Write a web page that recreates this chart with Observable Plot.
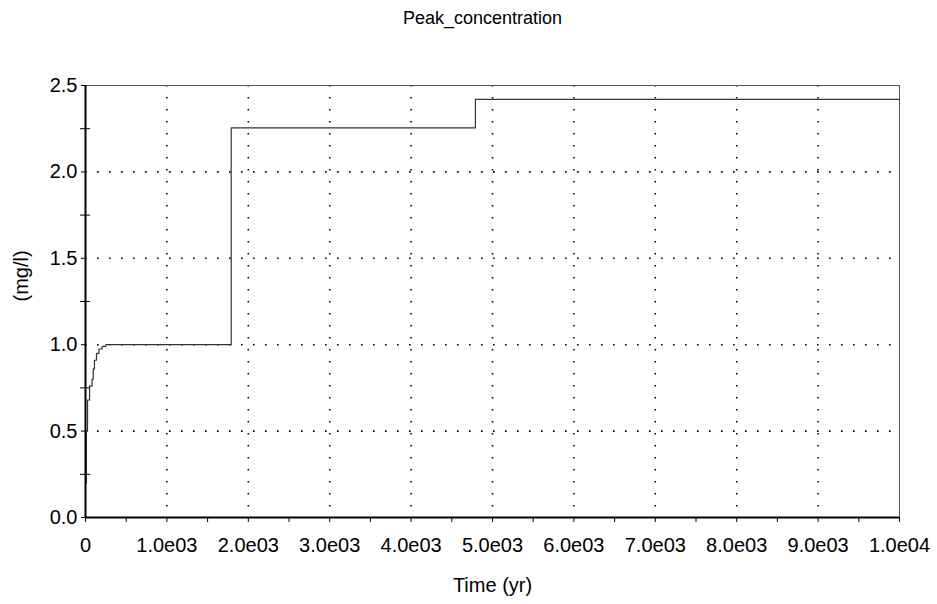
<!DOCTYPE html>
<html>
<head>
<meta charset="utf-8">
<script src="https://cdn.jsdelivr.net/npm/d3@7"></script>
<script src="https://cdn.jsdelivr.net/npm/@observablehq/plot@0.6"></script>
<style>
  html, body { margin: 0; padding: 0; background: #fff; }
  svg { display: block; }
</style>
</head>
<body>
<div id="chart"></div>
<script>
// Data (step series)
const times  = [0, 10, 25, 50, 80, 95, 110, 135, 165, 205, 250, 1790, 4790, 10000];
const values = [0.2, 0.5, 0.68, 0.76, 0.80, 0.86, 0.91, 0.95, 0.975, 0.99, 1.0, 2.255, 2.42, 2.42];

const xTicks = [0, 1000, 2000, 3000, 4000, 5000, 6000, 7000, 8000, 9000, 10000];
const xTickLabels = ["0", "1.0e03", "2.0e03", "3.0e03", "4.0e03", "5.0e03", "6.0e03", "7.0e03", "8.0e03", "9.0e03", "1.0e04"];
const xMinorTicks = [500, 1500, 2500, 3500, 4500, 5500, 6500, 7500, 8500, 9500];
const yTicks = [0, 0.5, 1.0, 1.5, 2.0, 2.5];
const yTickLabels = ["0.0", "0.5", "1.0", "1.5", "2.0", "2.5"];
const yMinorTicks = [0.25, 0.75, 1.25, 1.75, 2.25];

const title = "Peak_concentration";
const xLabel = "Time (yr)";
const yLabel = "(mg/l)";

const data = times.map((t, i) => ({t, v: values[i]}));
const font = "'Liberation Sans', Arial, sans-serif";

const chart = Plot.plot({
  width: 937,
  height: 604,
  marginLeft: 85,
  marginRight: 38,
  marginTop: 85,
  marginBottom: 87,
  style: {fontFamily: font, background: "#fff", color: "#000"},
  x: {domain: [0, 10000], axis: null},
  y: {domain: [0, 2.5], axis: null},
  marks: [
    Plot.gridX(xTicks.slice(1, -1), {stroke: "#000", strokeOpacity: 1, strokeWidth: 1.6, strokeDasharray: "1.6,10.4"}),
    Plot.gridY(yTicks.slice(1, -1), {stroke: "#000", strokeOpacity: 1, strokeWidth: 1.6, strokeDasharray: "1.6,10.4"}),
    Plot.frame({stroke: "#555", strokeWidth: 1}),
    Plot.line(data, {x: "t", y: "v", curve: "step-after", stroke: "#333", strokeWidth: 1.2}),
    Plot.axisX({ticks: xTicks, tickFormat: d => xTickLabels[xTicks.indexOf(d)], tickSize: 5, tickPadding: 15, fontSize: 20, label: null, stroke: "#000"}),
    Plot.axisX({ticks: xMinorTicks, tickFormat: () => "", tickSize: 5, label: null}),
    Plot.axisY({ticks: yTicks, tickFormat: d => yTickLabels[yTicks.indexOf(d)], tickSize: 4, tickPadding: 4, fontSize: 20, label: null}),
    Plot.axisY({ticks: yMinorTicks, tickFormat: () => "", tickSize: 5, label: null}),
    Plot.axisY({ticks: yMinorTicks, tickFormat: () => "", tickSize: -5, label: null}),
    Plot.ruleX([0], {stroke: "#000", strokeWidth: 2}),
    Plot.ruleY([0], {stroke: "#000", strokeWidth: 2}),
    Plot.text([title], {frameAnchor: "top", dx: -10, dy: -67, lineAnchor: "middle", fontSize: 18, fill: "#000"}),
    Plot.text([xLabel], {frameAnchor: "bottom", dy: 68, lineAnchor: "middle", fontSize: 20, fill: "#000"}),
    Plot.text([yLabel], {frameAnchor: "left", dx: -64, rotate: -90, lineAnchor: "middle", fontSize: 20, fill: "#000"})
  ]
});
document.getElementById("chart").appendChild(chart);
</script>
</body>
</html>
